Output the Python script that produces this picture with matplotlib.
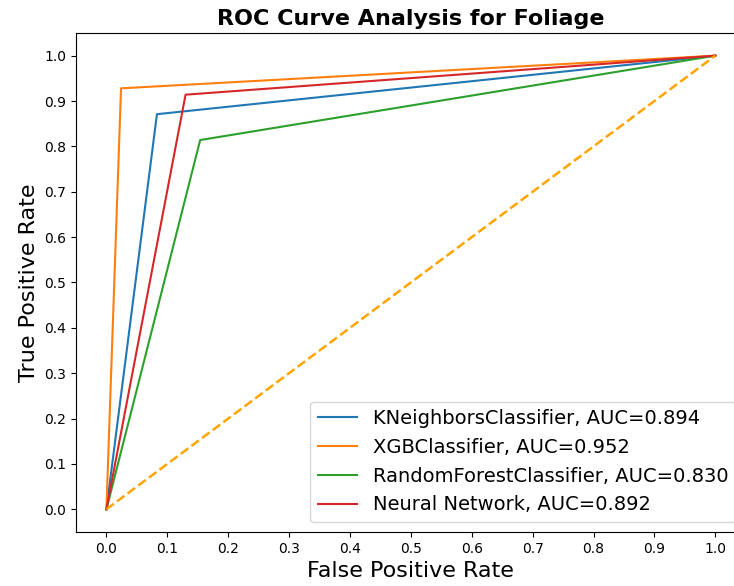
import numpy as np
import matplotlib.pyplot as plt

# ROC points (fpr, tpr) for each classifier
names = ['KNeighborsClassifier', 'XGBClassifier', 'RandomForestClassifier', 'Neural Network']
aucs = [0.894, 0.952, 0.830, 0.892]
fprs = [[0.0, 0.083, 1.0],
        [0.0, 0.024, 1.0],
        [0.0, 0.154, 1.0],
        [0.0, 0.130, 1.0]]
tprs = [[0.0, 0.871, 1.0],
        [0.0, 0.928, 1.0],
        [0.0, 0.814, 1.0],
        [0.0, 0.914, 1.0]]

fig = plt.figure(figsize=(7.34, 5.86), dpi=100)
ax = fig.add_subplot(111)
# the original image is cropped on the right, so the axes run past the edge
fig.subplots_adjust(left=0.1035, right=1.016, top=0.9437, bottom=0.0922)

for name, auc, f, t in zip(names, aucs, fprs, tprs):
    ax.plot(f, t, label='{}, AUC={:.3f}'.format(name, auc))

ax.plot([0, 1], [0, 1], color='orange', linestyle='--', linewidth=1.8)

ax.set_xticks(np.arange(0.0, 1.1, step=0.1))
ax.set_yticks(np.arange(0.0, 1.1, step=0.1))
ax.set_xlabel('False Positive Rate', fontsize=16)
ax.set_ylabel('True Positive Rate', fontsize=16)
ax.set_title('ROC Curve Analysis for Foliage', fontweight='bold', fontsize=16)
ax.legend(prop={'size': 14}, loc='lower right')

fig.savefig('out.png', dpi=100)
